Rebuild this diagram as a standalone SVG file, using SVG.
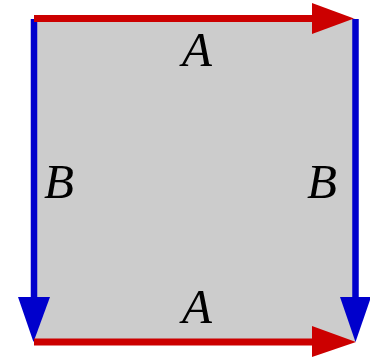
<svg xmlns="http://www.w3.org/2000/svg" width="370" height="362" viewBox="0 0 370 362">
<style>
.lbl{font-family:"Liberation Serif","Times New Roman",serif;font-style:italic;font-size:49px;fill:#000}
.red{stroke:#cc0000;stroke-width:7;fill:none}
.blue{stroke:#0000cc;stroke-width:6.5;fill:none}
.rh{fill:#cc0000}
.bh{fill:#0000cc}
</style>
<g id="square"><rect x="34" y="18.5" width="321" height="323.5" fill="#cccccc"/></g>
<g id="connectors">
<line class="blue" x1="34" y1="19" x2="34" y2="300"/>
<polygon class="bh" points="18,297 50,297 33.5,342"/>
<line class="blue" x1="355.5" y1="19" x2="355.5" y2="300"/>
<polygon class="bh" points="340,297 371,297 355.5,342"/>
<line class="red" x1="34" y1="18.5" x2="315" y2="18.5"/>
<polygon class="rh" points="312,3 312,34 354,18.5"/>
<line class="red" x1="34" y1="342" x2="315" y2="342"/>
<polygon class="rh" points="312,326 312,357 356,342"/>
</g>
<g id="label-A-top"><text class="lbl" x="197" y="66" text-anchor="middle">A</text></g>
<g id="label-A-bottom"><text class="lbl" x="197" y="323" text-anchor="middle">A</text></g>
<g id="label-B-left"><text class="lbl" x="44" y="198">B</text></g>
<g id="label-B-right"><text class="lbl" x="307" y="198">B</text></g>
</svg>
